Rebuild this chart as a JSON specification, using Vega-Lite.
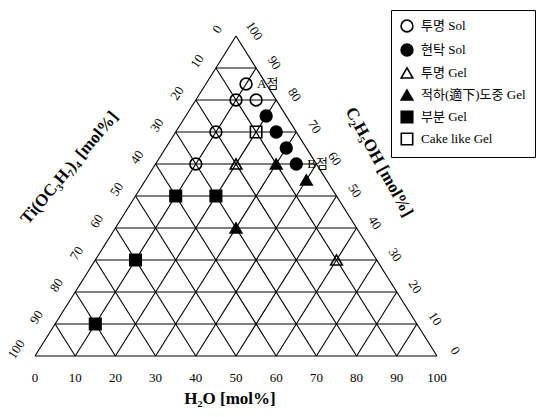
{
  "$schema": "https://vega.github.io/schema/vega-lite/v6.json",
  "width": 536,
  "height": 417,
  "autosize": {"type": "none"},
  "padding": 0,
  "background": "white",
  "config": {"view": {"stroke": null}},
  "datasets": {
    "points": [
      {"Ti": 5, "H2O": 10, "EtOH": 85, "type": "투명 Sol", "note": "A점"},
      {"Ti": 5, "H2O": 15, "EtOH": 80, "type": "투명 Sol", "note": null},
      {"Ti": 10, "H2O": 10, "EtOH": 80, "type": "투명 Sol", "note": null},
      {"Ti": 20, "H2O": 10, "EtOH": 70, "type": "투명 Sol", "note": null},
      {"Ti": 30, "H2O": 10, "EtOH": 60, "type": "투명 Sol", "note": null},
      {"Ti": 5, "H2O": 20, "EtOH": 75, "type": "현탁 Sol", "note": null},
      {"Ti": 5, "H2O": 25, "EtOH": 70, "type": "현탁 Sol", "note": null},
      {"Ti": 5, "H2O": 30, "EtOH": 65, "type": "현탁 Sol", "note": null},
      {"Ti": 5, "H2O": 35, "EtOH": 60, "type": "현탁 Sol", "note": "B점"},
      {"Ti": 20, "H2O": 20, "EtOH": 60, "type": "투명 Gel", "note": null},
      {"Ti": 10, "H2O": 60, "EtOH": 30, "type": "투명 Gel", "note": null},
      {"Ti": 10, "H2O": 30, "EtOH": 60, "type": "적하(適下)도중 Gel", "note": null},
      {"Ti": 5, "H2O": 40, "EtOH": 55, "type": "적하(適下)도중 Gel", "note": null},
      {"Ti": 30, "H2O": 30, "EtOH": 40, "type": "적하(適下)도중 Gel", "note": null},
      {"Ti": 40, "H2O": 10, "EtOH": 50, "type": "부분 Gel", "note": null},
      {"Ti": 30, "H2O": 20, "EtOH": 50, "type": "부분 Gel", "note": null},
      {"Ti": 60, "H2O": 10, "EtOH": 30, "type": "부분 Gel", "note": null},
      {"Ti": 80, "H2O": 10, "EtOH": 10, "type": "부분 Gel", "note": null},
      {"Ti": 10, "H2O": 20, "EtOH": 70, "type": "Cake like Gel", "note": null}
    ],
    "grid": [
      {"comp": "EtOH", "v": 0}, {"comp": "EtOH", "v": 10}, {"comp": "EtOH", "v": 20}, {"comp": "EtOH", "v": 30}, {"comp": "EtOH", "v": 40},
      {"comp": "EtOH", "v": 50}, {"comp": "EtOH", "v": 60}, {"comp": "EtOH", "v": 70}, {"comp": "EtOH", "v": 80}, {"comp": "EtOH", "v": 90},
      {"comp": "H2O", "v": 0}, {"comp": "H2O", "v": 10}, {"comp": "H2O", "v": 20}, {"comp": "H2O", "v": 30}, {"comp": "H2O", "v": 40},
      {"comp": "H2O", "v": 50}, {"comp": "H2O", "v": 60}, {"comp": "H2O", "v": 70}, {"comp": "H2O", "v": 80}, {"comp": "H2O", "v": 90},
      {"comp": "Ti", "v": 0}, {"comp": "Ti", "v": 10}, {"comp": "Ti", "v": 20}, {"comp": "Ti", "v": 30}, {"comp": "Ti", "v": 40},
      {"comp": "Ti", "v": 50}, {"comp": "Ti", "v": 60}, {"comp": "Ti", "v": 70}, {"comp": "Ti", "v": 80}, {"comp": "Ti", "v": 90}
    ],
    "ticks": [
      {"v": 0}, {"v": 10}, {"v": 20}, {"v": 30}, {"v": 40}, {"v": 50},
      {"v": 60}, {"v": 70}, {"v": 80}, {"v": 90}, {"v": 100}
    ],
    "titles": [
      {"edge": "bottom", "label": "H₂O [mol%]"},
      {"edge": "left", "label": "Ti(OC₃H₇)₄ [mol%]"},
      {"edge": "right", "label": "C₂H₅OH [mol%]"}
    ]
  },
  "encoding": {
    "x": {"field": "px", "type": "quantitative", "scale": {"domain": [-8.706, 124.627], "nice": false, "zero": false}, "axis": null},
    "y": {"field": "py", "type": "quantitative", "scale": {"domain": [-19.0625, 111.25], "nice": false, "zero": false}, "axis": null}
  },
  "layer": [
    {
      "data": {"name": "grid"},
      "transform": [
        {"calculate": "datum.comp == 'EtOH' ? 0 : (datum.comp == 'H2O' ? datum.v : 100 - datum.v)", "as": "h1"},
        {"calculate": "datum.comp == 'EtOH' ? datum.v : 0", "as": "c1"},
        {"calculate": "datum.comp == 'EtOH' ? 100 - datum.v : (datum.comp == 'H2O' ? datum.v : 0)", "as": "h2"},
        {"calculate": "datum.comp == 'EtOH' ? datum.v : 100 - datum.v", "as": "c2"},
        {"calculate": "datum.h1 + datum.c1 / 2", "as": "px"},
        {"calculate": "datum.c1", "as": "py"},
        {"calculate": "datum.h2 + datum.c2 / 2", "as": "px2"},
        {"calculate": "datum.c2", "as": "py2"}
      ],
      "mark": {"type": "rule", "color": "black", "strokeWidth": 1.1},
      "encoding": {
        "x2": {"field": "px2"},
        "y2": {"field": "py2"}
      }
    },
    {
      "data": {"name": "points"},
      "transform": [
        {"calculate": "datum.H2O + datum.EtOH / 2", "as": "px"},
        {"calculate": "datum.EtOH", "as": "py"}
      ],
      "mark": {"type": "point", "filled": true, "stroke": "black", "strokeWidth": 1.6, "opacity": 1},
      "encoding": {
        "shape": {
          "field": "type", "type": "nominal", "title": null,
          "scale": {
            "domain": ["투명 Sol", "현탁 Sol", "투명 Gel", "적하(適下)도중 Gel", "부분 Gel", "Cake like Gel"],
            "range": ["circle", "circle", "triangle-up", "triangle-up", "square", "square"]
          },
          "legend": {
            "title": null,
            "orient": "none",
            "legendX": 391,
            "legendY": 10,
            "strokeColor": "black",
            "padding": 9,
            "labelFont": "Liberation Serif, Noto Sans CJK KR",
            "labelFontSize": 13,
            "labelColor": "black",
            "labelOffset": 7,
            "rowPadding": 4,
            "symbolStrokeColor": "black",
            "symbolStrokeWidth": 1.6,
            "symbolOpacity": 1,
            "labelLimit": 200
          }
        },
        "fill": {
          "field": "type", "type": "nominal", "title": null,
          "scale": {
            "domain": ["투명 Sol", "현탁 Sol", "투명 Gel", "적하(適下)도중 Gel", "부분 Gel", "Cake like Gel"],
            "range": ["transparent", "black", "transparent", "black", "black", "transparent"]
          },
          "legend": {"title": null}
        },
        "size": {
          "field": "type", "type": "nominal", "title": null,
          "scale": {
            "domain": ["투명 Sol", "현탁 Sol", "투명 Gel", "적하(適下)도중 Gel", "부분 Gel", "Cake like Gel"],
            "range": [140, 130, 170, 180, 110, 100]
          },
          "legend": {"title": null}
        }
      }
    },
    {
      "data": {"name": "points"},
      "transform": [
        {"filter": "datum.note != null"},
        {"calculate": "datum.H2O + datum.EtOH / 2", "as": "px"},
        {"calculate": "datum.EtOH", "as": "py"}
      ],
      "mark": {"type": "text", "align": "left", "baseline": "middle", "dx": 11, "font": "Liberation Serif, Noto Sans CJK KR", "fontSize": 13, "color": "black"},
      "encoding": {"text": {"field": "note"}}
    },
    {
      "data": {"name": "ticks"},
      "transform": [
        {"calculate": "datum.v", "as": "px"},
        {"calculate": "0", "as": "py"}
      ],
      "mark": {"type": "text", "align": "center", "baseline": "middle", "dy": 22, "font": "Liberation Serif", "fontSize": 13, "color": "black"},
      "encoding": {"text": {"field": "v"}}
    },
    {
      "data": {"name": "ticks"},
      "transform": [
        {"calculate": "(100 - datum.v) / 2 - 4.6", "as": "px"},
        {"calculate": "100 - datum.v + 2.1", "as": "py"}
      ],
      "mark": {"type": "text", "align": "center", "baseline": "middle", "angle": -57, "font": "Liberation Serif", "fontSize": 13, "color": "black"},
      "encoding": {"text": {"field": "v"}}
    },
    {
      "data": {"name": "ticks"},
      "transform": [
        {"calculate": "100 - datum.v / 2 + 4.5", "as": "px"},
        {"calculate": "datum.v + 1.6", "as": "py"}
      ],
      "mark": {"type": "text", "align": "center", "baseline": "middle", "angle": 57, "font": "Liberation Serif", "fontSize": 13, "color": "black"},
      "encoding": {"text": {"field": "v"}}
    },
    {
      "data": {"name": "titles"},
      "transform": [
        {"calculate": "datum.edge == 'bottom' ? 48.5 : (datum.edge == 'left' ? 8.6 : 85.6)", "as": "px"},
        {"calculate": "datum.edge == 'bottom' ? -13.4 : (datum.edge == 'left' ? 58.8 : 60.6)", "as": "py"},
        {"calculate": "datum.edge == 'bottom' ? 0 : (datum.edge == 'left' ? -50 : 61)", "as": "rot"}
      ],
      "mark": {"type": "text", "align": "center", "baseline": "middle", "font": "Liberation Serif", "fontSize": 17, "fontWeight": "bold", "color": "black"},
      "encoding": {
        "text": {"field": "label"},
        "angle": {"field": "rot", "type": "quantitative", "scale": null}
      }
    }
  ]
}
